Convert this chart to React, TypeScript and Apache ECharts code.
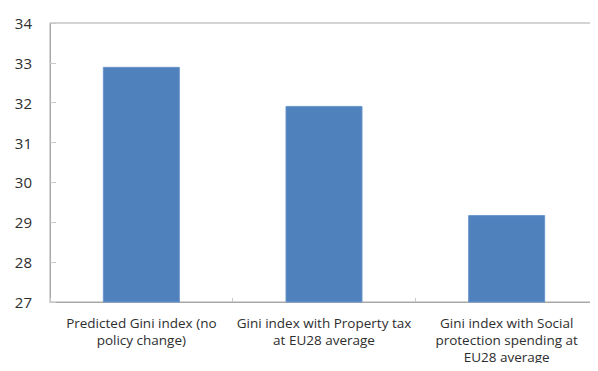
import React, { useEffect, useRef } from "react";
import * as echarts from "echarts";

// Gini index scenarios
const categories: string[] = [
  "Predicted Gini index (no\npolicy change)",
  "Gini index with Property tax\nat EU28 average",
  "Gini index with Social\nprotection spending at\nEU28 average",
];
const giniValues: number[] = [32.9, 31.92, 29.18];
const yTicks = { min: 27, max: 34, interval: 1 };

const FONT = "'Open Sans', 'Noto Sans', sans-serif";

export default function App() {
  const ref = useRef<HTMLDivElement>(null);

  useEffect(() => {
    if (!ref.current) return;
    const chart = echarts.init(ref.current, undefined, { renderer: "svg" });
    chart.setOption({
      animation: false,
      grid: {
        left: 50,
        top: 23,
        bottom: 69,
        right: -13,
        show: true,
        borderColor: "#a8a8a8",
        borderWidth: 1,
        backgroundColor: "transparent",
      },
      xAxis: {
        type: "category",
        data: categories,
        axisLine: { show: true, lineStyle: { color: "#a8a8a8", width: 1 } },
        axisTick: {
          show: true,
          inside: true,
          length: 4,
          lineStyle: { color: "#c8c8c8" },
        },
        axisLabel: {
          interval: 0,
          margin: 12,
          fontFamily: FONT,
          fontSize: 13.5,
          lineHeight: 17,
          color: "#2e2e2e",
        },
      },
      yAxis: {
        type: "value",
        min: yTicks.min,
        max: yTicks.max,
        interval: yTicks.interval,
        splitLine: { show: false },
        axisLine: { show: true, lineStyle: { color: "#a8a8a8", width: 1 } },
        axisTick: {
          show: true,
          inside: true,
          length: 6,
          lineStyle: { color: "#c8c8c8" },
        },
        axisLabel: {
          margin: 18,
          fontFamily: FONT,
          fontSize: 15,
          color: "#2e2e2e",
        },
      },
      series: [
        {
          type: "bar",
          data: giniValues,
          barWidth: 77,
          itemStyle: {
            color: "#4f81bd",
            borderColor: "#6a96cc",
            borderWidth: 1,
          },
        },
      ],
    });
    return () => chart.dispose();
  }, []);

  return <div ref={ref} style={{ width: 598, height: 371, margin: -8 }} />;
}
